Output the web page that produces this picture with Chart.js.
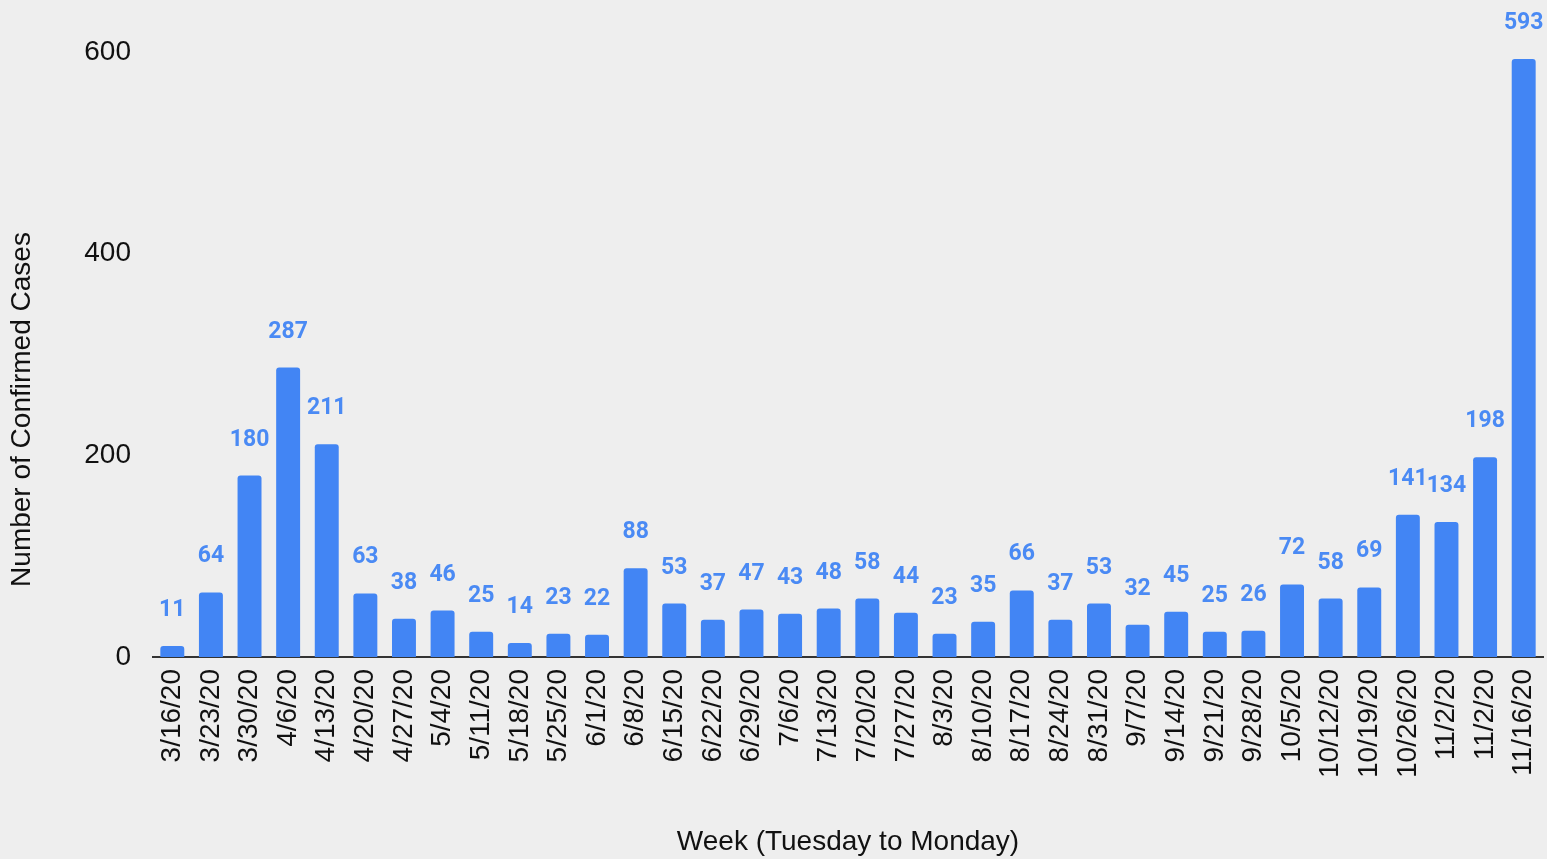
<!DOCTYPE html>
<html>
<head>
<meta charset="utf-8">
<script src="https://cdn.jsdelivr.net/npm/chart.js@4"></script>
<style>
  html, body { margin: 0; padding: 0; background: #eeeeee; }
  #wrap { width: 1547px; height: 859px; }
</style>
</head>
<body>
<div id="wrap"><canvas id="cases" width="1547" height="859"></canvas></div>
<script>
// Weekly confirmed cases
const weeks = [
  "3/16/20", "3/23/20", "3/30/20", "4/6/20", "4/13/20", "4/20/20", "4/27/20",
  "5/4/20", "5/11/20", "5/18/20", "5/25/20", "6/1/20", "6/8/20", "6/15/20",
  "6/22/20", "6/29/20", "7/6/20", "7/13/20", "7/20/20", "7/27/20", "8/3/20",
  "8/10/20", "8/17/20", "8/24/20", "8/31/20", "9/7/20", "9/14/20", "9/21/20",
  "9/28/20", "10/5/20", "10/12/20", "10/19/20", "10/26/20", "11/2/20", "11/2/20",
  "11/16/20"
];
const cases = [
  11, 64, 180, 287, 211, 63, 38,
  46, 25, 14, 23, 22, 88, 53,
  37, 47, 43, 48, 58, 44, 23,
  35, 66, 37, 53, 32, 45, 25,
  26, 72, 58, 69, 141, 134, 198,
  593
];
const yTicks = [0, 200, 400, 600];
const yTitle = "Number of Confirmed Cases";

const BLUE = "#4285f4";
const FONT = "'Liberation Sans', Arial, sans-serif";

// Value labels above each bar
const barLabels = {
  id: "barLabels",
  afterDatasetsDraw: function (chart) {
    const ctx = chart.ctx;
    const meta = chart.getDatasetMeta(0);
    ctx.save();
    ctx.font = "bold 23px Roboto, 'Liberation Sans', sans-serif";
    ctx.fillStyle = "#4a8af4";
    ctx.textAlign = "center";
    ctx.textBaseline = "alphabetic";
    meta.data.forEach(function (bar, i) {
      ctx.fillText(String(cases[i]), bar.x, bar.y - 30);
    });
    ctx.restore();
  },
};

// Y axis title, centred on the whole canvas height like the original
const sideTitle = {
  id: "sideTitle",
  afterDraw: function (chart) {
    const ctx = chart.ctx;
    ctx.save();
    ctx.translate(22, chart.height / 2 - 20);
    ctx.rotate(-Math.PI / 2);
    ctx.font = "28px " + FONT;
    ctx.fillStyle = "#111111";
    ctx.textAlign = "center";
    ctx.textBaseline = "middle";
    ctx.fillText(yTitle, 0, 0);
    ctx.restore();
  },
};

new Chart(document.getElementById("cases"), {
  type: "bar",
  data: {
    labels: weeks,
    datasets: [
      {
        label: yTitle,
        data: cases,
        backgroundColor: BLUE,
        borderRadius: { topLeft: 3, topRight: 3 },
        borderSkipped: "start",
        barPercentage: 0.62,
        categoryPercentage: 1,
      },
    ],
  },
  options: {
    responsive: false,
    animation: false,
    layout: {
      padding: { top: 52, right: 4, bottom: 0, left: 0 },
    },
    plugins: {
      legend: { display: false },
      tooltip: { enabled: false },
    },
    scales: {
      x: {
        grid: { display: false, drawTicks: false },
        border: { display: true, color: "#333333", width: 2 },
        ticks: {
          color: "#111111",
          font: { family: FONT, size: 28 },
          minRotation: 90,
          maxRotation: 90,
          autoSkip: false,
          padding: 12,
        },
        title: {
          display: true,
          text: "Week (Tuesday to Monday)",
          color: "#111111",
          font: { family: FONT, size: 28 },
          padding: { top: 0, bottom: 0 },
        },
        afterFit: function (scale) {
          scale.height = 202;
          scale.paddingLeft = 0;
          scale.paddingRight = 0;
        },
      },
      y: {
        min: 0,
        max: 600,
        grid: { display: false, drawTicks: false },
        border: { display: false },
        afterBuildTicks: function (scale) {
          scale.ticks = yTicks.map((v) => ({ value: v }));
        },
        ticks: {
          color: "#111111",
          font: { family: FONT, size: 28 },
          padding: 22,
        },
        afterFit: function (scale) {
          scale.width = 153;
        },
      },
    },
  },
  plugins: [barLabels, sideTitle],
});
</script>
</body>
</html>
